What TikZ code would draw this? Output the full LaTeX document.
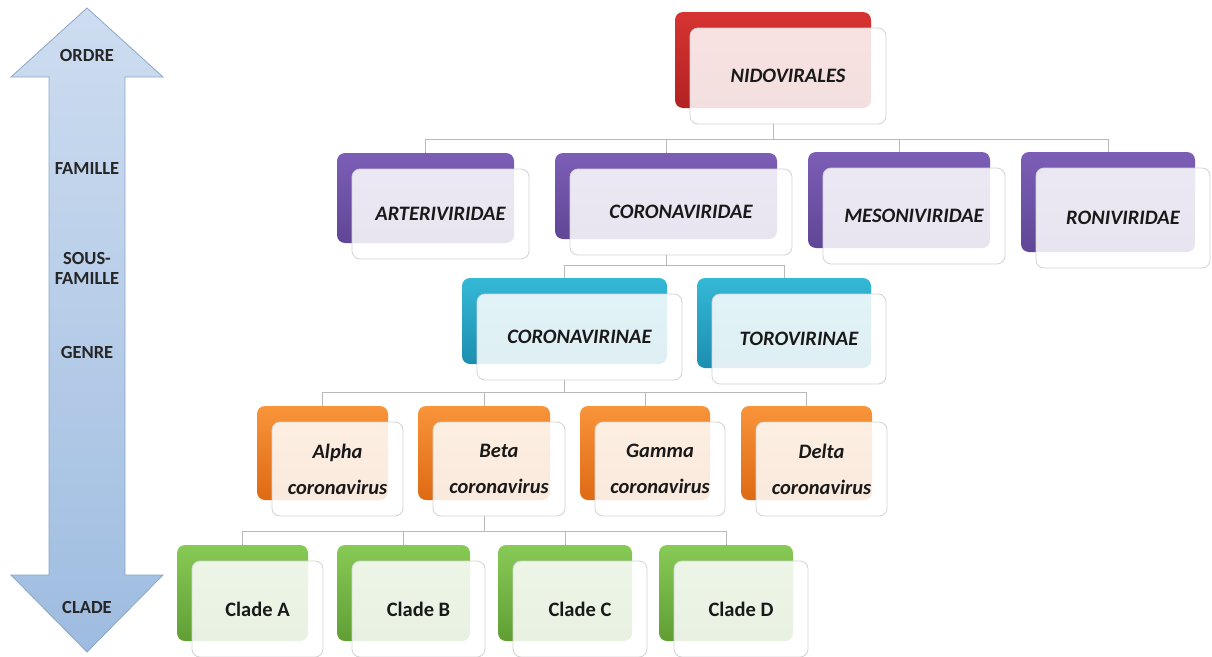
\documentclass[tikz,border=0pt]{standalone}
\usepackage{fontspec}
\setmainfont{Carlito}
\usetikzlibrary{positioning}
\usetikzlibrary{calc}

\definecolor{ordreRed}{RGB}{214,52,50}
\definecolor{ordreRedD}{RGB}{178,34,34}
\definecolor{famPurple}{RGB}{124,94,182}
\definecolor{famPurpleD}{RGB}{96,70,150}
\definecolor{subTeal}{RGB}{52,184,214}
\definecolor{subTealD}{RGB}{30,142,176}
\definecolor{genOrange}{RGB}{248,148,58}
\definecolor{genOrangeD}{RGB}{222,106,20}
\definecolor{cladeGreen}{RGB}{136,202,86}
\definecolor{cladeGreenD}{RGB}{96,158,52}
\definecolor{arrowTop}{RGB}{206,221,240}
\definecolor{arrowBot}{RGB}{158,188,224}
\definecolor{arrowEdge}{RGB}{140,166,200}

% one taxon: coloured back box and light front box
% #1 name, #2 colour, #3 x, #4 y, #5 width, #6 height, #7 text
\newcommand{\TaxonBox}[7]{%
	\node (#1B) at (#3,#4)
		[back, top color=#2, bottom color=#2D,
		 minimum width=#5pt, minimum height=#6pt] {};
	\node (#1) at ([xshift=15pt,yshift=-16pt]#1B.center)
		[front, minimum width=#5pt, minimum height=#6pt] {#7};
}
\newcommand{\CladeText}[1]{{\fontsize{20.5}{24}\selectfont\upshape #1}}

\begin{document}
\begin{tikzpicture}[x=1pt,y=-1pt]

\useasboundingbox (0,0) rectangle (1212,656);

% Styles
\tikzstyle{back} =
	[rounded corners=8pt, inner sep=0pt]

\tikzstyle{front} =
	[rounded corners=8pt, draw=gray!35, line width=0.8pt, fill=white,
	 fill opacity=0.86, text opacity=1, align=center, text=black!90,
	 font=\fontsize{20.5}{36}\selectfont\bfseries\itshape]

\tikzstyle{rank} =
	[font=\fontsize{18.5}{20}\selectfont\bfseries, text=black!85, align=center]

\tikzstyle{link} =
	[draw=gray!55, line width=0.8pt]

% Rank arrow
\path[draw=arrowEdge, line width=0.8pt, top color=arrowTop, bottom color=arrowBot]
	(87,8) -- (163,77) -- (125,77) -- (125,575) -- (163,575) -- (87,652)
	-- (11,575) -- (49,575) -- (49,77) -- (11,77) -- cycle;

\node (Ordre) at (87,55) [rank] {ORDRE};
\node (Famille) at (87,168) [rank] {FAMILLE};
\node (SousFamille) at (87,268) [rank] {SOUS-\\FAMILLE};
\node (Genre) at (87,352) [rank] {GENRE};
\node (Clade) at (87,607) [rank] {CLADE};

% Modules

\TaxonBox{Nido}{ordreRed}{773}{60}{196}{96}{NIDOVIRALES}

\TaxonBox{Arteri}{famPurple}{425.5}{198}{177}{90}{ARTERIVIRIDAE}
\TaxonBox{Corona}{famPurple}{666}{196}{222}{86}{CORONAVIRIDAE}
\TaxonBox{Meso}{famPurple}{899}{200}{182}{96}{MESONIVIRIDAE}
\TaxonBox{Roni}{famPurple}{1108}{202}{174}{100}{RONIVIRIDAE}

\TaxonBox{Coronavirinae}{subTeal}{564.5}{321}{205}{86}{CORONAVIRINAE}
\TaxonBox{Toro}{subTeal}{784}{323}{174}{90}{TOROVIRINAE}

\TaxonBox{Alpha}{genOrange}{322.5}{453}{131}{94}{Alpha\\coronavirus}
\TaxonBox{Beta}{genOrange}{484}{453}{132}{94}{Beta\\coronavirus}
\TaxonBox{Gamma}{genOrange}{645}{453}{130}{94}{Gamma\\coronavirus}
\TaxonBox{Delta}{genOrange}{806.5}{453}{131}{94}{Delta\\coronavirus}

\TaxonBox{CladeA}{cladeGreen}{242.5}{593}{131}{96}{\CladeText{Clade A}}
\TaxonBox{CladeB}{cladeGreen}{403.5}{593}{133}{96}{\CladeText{Clade B}}
\TaxonBox{CladeC}{cladeGreen}{565}{593}{134}{96}{\CladeText{Clade C}}
\TaxonBox{CladeD}{cladeGreen}{726}{593}{134}{96}{\CladeText{Clade D}}

% Edges

\coordinate (FamBus) at (0,139);
\coordinate (SubBus) at (0,265);
\coordinate (GenBus) at (0,392);
\coordinate (CladeBus) at (0,531);

\draw[link] (NidoB.south |- Nido.south) -- (NidoB.south |- FamBus);
\draw[link] (ArteriB.north) -- (ArteriB.north |- FamBus)
	-- (RoniB.north |- FamBus) -- (RoniB.north);
\foreach \n in {CoronaB, MesoB}
	\draw[link] (\n.north) -- (\n.north |- FamBus);

\draw[link] (CoronaB.south |- Corona.south) -- (CoronaB.south |- SubBus);
\draw[link] (CoronavirinaeB.north) -- (CoronavirinaeB.north |- SubBus)
	-- (ToroB.north |- SubBus) -- (ToroB.north);

\draw[link] (CoronavirinaeB.south |- Coronavirinae.south) -- (CoronavirinaeB.south |- GenBus);
\draw[link] (AlphaB.north) -- (AlphaB.north |- GenBus)
	-- (DeltaB.north |- GenBus) -- (DeltaB.north);
\foreach \n in {BetaB, GammaB}
	\draw[link] (\n.north) -- (\n.north |- GenBus);

\draw[link] (BetaB.south |- Beta.south) -- (BetaB.south |- CladeBus);
\draw[link] (CladeAB.north) -- (CladeAB.north |- CladeBus)
	-- (CladeDB.north |- CladeBus) -- (CladeDB.north);
\foreach \n in {CladeBB, CladeCB}
	\draw[link] (\n.north) -- (\n.north |- CladeBus);

\end{tikzpicture}
\end{document}
